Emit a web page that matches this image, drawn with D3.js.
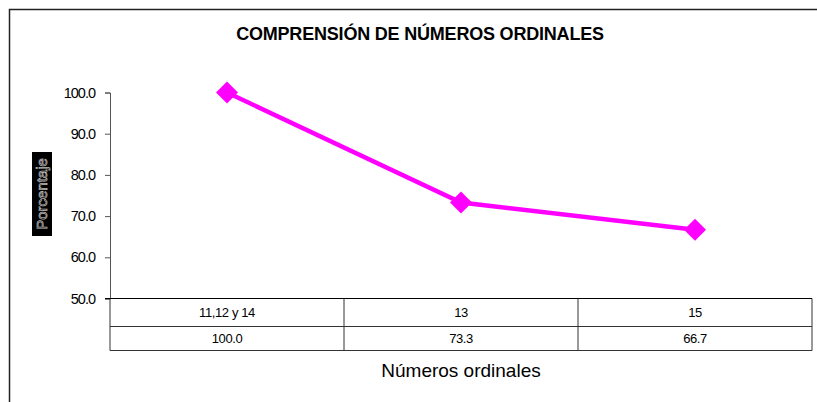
<!DOCTYPE html>
<html>
<head>
<meta charset="utf-8">
<script src="https://cdn.jsdelivr.net/npm/d3@7"></script>
<style>
  html, body { margin: 0; padding: 0; background: #fff; }
  svg { display: block; font-family: "Liberation Sans", Arial, sans-serif; }
</style>
</head>
<body>
<div id="chart"></div>
<script>
// Chart data
const categories = ['11,12 y 14', '13', '15'];
const values = [100.0, 73.3, 66.7];
const yTicks = [50, 60, 70, 80, 90, 100];
const titleText = 'COMPRENSIÓN DE NÚMEROS ORDINALES';
const xTitle = 'Números ordinales';
const yTitle = 'Porcentaje';

const W = 817, H = 402;
const plot = {left: 110, right: 812, top: 92.5, bottom: 298.5};
const rowH = [28, 24];

const svg = d3.select('#chart')
    .append('svg')
    .attr('width', W)
    .attr('height', H);

// Outer frame (only top and left edges show)
svg.append('path')
    .attr('d', `M9.5,${H} L9.5,9.5 L${W},9.5`)
    .attr('fill', 'none')
    .attr('stroke', '#222')
    .attr('stroke-width', 1.5);

// Scales
const x = d3.scaleBand()
    .domain(categories)
    .range([plot.left, plot.right])
    .padding(0);

const y = d3.scaleLinear()
    .domain([50, 100])
    .range([plot.bottom, plot.top]);

// Title
svg.append('text')
    .attr('x', 420)
    .attr('y', 40)
    .attr('text-anchor', 'middle')
    .style('font-size', '18px')
    .style('font-weight', 'bold')
    .style('letter-spacing', '-0.2px')
    .text(titleText);

// Y axis
const yAxis = d3.axisLeft(y)
    .tickValues(yTicks)
    .tickSize(5)
    .tickPadding(10)
    .tickFormat(d3.format('.1f'));

const gy = svg.append('g')
    .attr('transform', `translate(${plot.left},0)`)
    .call(yAxis);
gy.select('.domain').attr('stroke', '#555').attr('stroke-width', 1);
gy.selectAll('.tick line').attr('stroke', '#555');
gy.selectAll('.tick text')
    .style('font-size', '14.5px')
    .style('letter-spacing', '-1px')
    .attr('fill', '#000');

// Y axis title: black box with light outlined text
const yt = svg.append('g')
    .attr('transform', 'translate(42,194) rotate(-90)');
yt.append('rect')
    .attr('x', -42)
    .attr('y', -10)
    .attr('width', 84)
    .attr('height', 20)
    .attr('fill', '#000');
yt.append('text')
    .attr('text-anchor', 'middle')
    .attr('dy', '0.36em')
    .attr('fill', 'none')
    .attr('stroke', '#bbb')
    .attr('stroke-width', 0.7)
    .style('font-size', '15px')
    .text(yTitle);

// Data table under the plot
const tableTop = plot.bottom;
const tableBottom = tableTop + rowH[0] + rowH[1];
const table = svg.append('g');

// horizontal lines (top line extends to tick)
table.append('line')
    .attr('x1', plot.left - 5).attr('x2', plot.right)
    .attr('y1', tableTop).attr('y2', tableTop)
    .attr('stroke', '#000').attr('stroke-width', 1.2);
[tableTop + rowH[0], tableBottom].forEach(yy => {
    table.append('line')
        .attr('x1', plot.left).attr('x2', plot.right)
        .attr('y1', yy).attr('y2', yy)
        .attr('stroke', '#333').attr('stroke-width', 1);
});
// vertical lines
const xs = categories.map(c => x(c)).concat([plot.right]);
xs.forEach(xx => {
    table.append('line')
        .attr('x1', xx).attr('x2', xx)
        .attr('y1', tableTop).attr('y2', tableBottom)
        .attr('stroke', '#333').attr('stroke-width', 1);
});

categories.forEach((c, i) => {
    const cx = x(c) + x.bandwidth() / 2;
    table.append('text')
        .attr('x', cx)
        .attr('y', tableTop + rowH[0] / 2)
        .attr('dy', '0.36em')
        .attr('text-anchor', 'middle')
        .style('font-size', '13px')
        .style('letter-spacing', '-0.4px')
        .text(c);
    table.append('text')
        .attr('x', cx)
        .attr('y', tableTop + rowH[0] + rowH[1] / 2)
        .attr('dy', '0.36em')
        .attr('text-anchor', 'middle')
        .style('font-size', '13px')
        .style('letter-spacing', '-0.4px')
        .text(d3.format('.1f')(values[i]));
});

// X axis title
svg.append('text')
    .attr('x', 461)
    .attr('y', 377)
    .attr('text-anchor', 'middle')
    .style('font-size', '19px')
    .text(xTitle);

// Line
const pts = categories.map((c, i) => ({cat: c, val: values[i]}));
const line = d3.line()
    .x(d => x(d.cat) + x.bandwidth() / 2)
    .y(d => y(d.val));

svg.append('path')
    .datum(pts)
    .attr('fill', 'none')
    .attr('stroke', '#ff00ff')
    .attr('stroke-width', 4.5)
    .attr('d', line);

// Diamond markers
svg.selectAll('.marker')
    .data(pts)
    .enter()
    .append('path')
    .attr('class', 'marker')
    .attr('transform', d => `translate(${x(d.cat) + x.bandwidth() / 2},${y(d.val)})`)
    .attr('d', 'M0,-11 L11,0 L0,11 L-11,0 Z')
    .attr('fill', '#ff00ff');
</script>
</body>
</html>
